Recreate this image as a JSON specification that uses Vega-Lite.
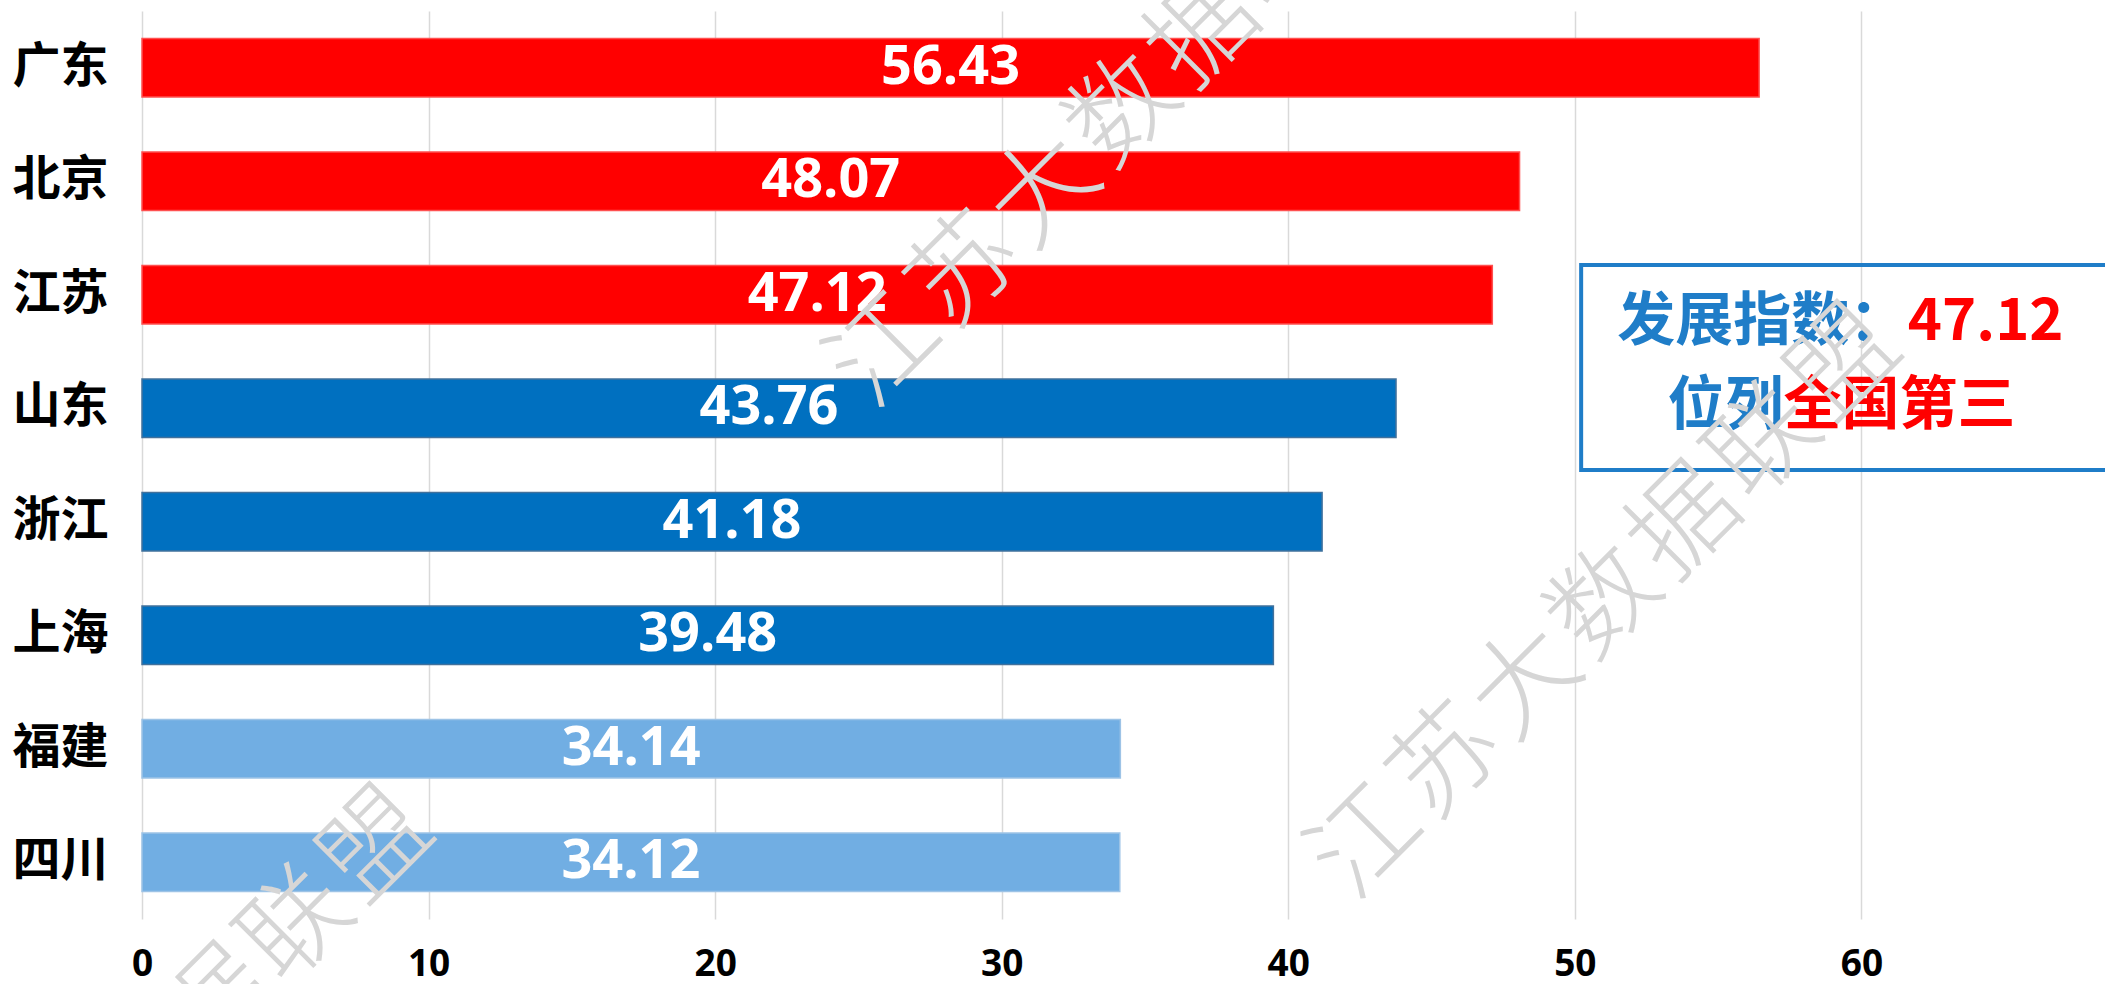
{
  "$schema": "https://vega.github.io/schema/vega-lite/v6.json",
  "width": 1963,
  "height": 908,
  "autosize": {"type": "none"},
  "padding": {"left": 142, "top": 11, "right": 0, "bottom": 65},
  "background": "white",
  "config": {"view": {"stroke": null}},
  "datasets": {
    "provinces": [
      {"province": "广东", "value": 56.43, "tier": "前三"},
      {"province": "北京", "value": 48.07, "tier": "前三"},
      {"province": "江苏", "value": 47.12, "tier": "前三"},
      {"province": "山东", "value": 43.76, "tier": "第二梯队"},
      {"province": "浙江", "value": 41.18, "tier": "第二梯队"},
      {"province": "上海", "value": 39.48, "tier": "第二梯队"},
      {"province": "福建", "value": 34.14, "tier": "第三梯队"},
      {"province": "四川", "value": 34.12, "tier": "第三梯队"}
    ]
  },
  "layer": [
    {
      "data": {"name": "provinces"},
      "layer": [
        {
          "mark": {"type": "bar", "strokeWidth": 1.5},
          "encoding": {
            "y": {
              "field": "province", "type": "nominal", "sort": null,
              "scale": {"paddingInner": 0.483, "paddingOuter": 0.2415},
              "axis": {"title": null, "domain": false, "ticks": false, "labelFont": "Noto Sans CJK SC", "labelFontWeight": "bold", "labelFontSize": 48, "labelColor": "#000000", "labelPadding": 34}
            },
            "x": {
              "field": "value", "type": "quantitative",
              "scale": {"domain": [0, 68.5], "nice": false, "zero": true},
              "axis": {"title": null, "values": [0, 10, 20, 30, 40, 50, 60], "domain": false, "ticks": false, "grid": true, "gridColor": "#D9D9D9", "gridWidth": 1.5, "labelFlush": false, "labelFont": "Open Sans", "labelFontWeight": "bold", "labelFontSize": 37, "labelColor": "#000000", "labelPadding": 27}
            },
            "color": {"field": "tier", "type": "nominal", "scale": {"domain": ["前三", "第二梯队", "第三梯队"], "range": ["#FF0000", "#0070C0", "#71AEE3"]}, "legend": null},
            "stroke": {"field": "tier", "type": "nominal", "scale": {"domain": ["前三", "第二梯队", "第三梯队"], "range": ["#FF5050", "#41719C", "#9DC3E6"]}, "legend": null}
          }
        },
        {
          "transform": [{"calculate": "datum.value / 2", "as": "mid"}],
          "mark": {"type": "text", "color": "#FFFFFF", "font": "Open Sans", "fontWeight": "bold", "fontSize": 54, "align": "center", "baseline": "middle"},
          "encoding": {
            "y": {"field": "province", "type": "nominal", "sort": null},
            "x": {"field": "mid", "type": "quantitative"},
            "text": {"field": "value", "type": "quantitative", "format": ".2f"}
          }
        }
      ]
    },
    {
      "data": {"values": [{}]},
      "layer": [
        {
          "mark": {"type": "rect", "filled": false, "stroke": "#1F7DC8", "strokeWidth": 4},
          "encoding": {
            "x": {"datum": 50.22, "type": "quantitative"},
            "x2": {"datum": 70},
            "y": {"datum": 2.238, "type": "quantitative", "scale": {"domain": [0, 8], "reverse": true}, "axis": null},
            "y2": {"datum": 4.044}
          }
        },
        {
          "mark": {"type": "text", "text": "发展指数：", "color": "#1F7DC8", "font": "Noto Sans CJK SC", "fontWeight": "bold", "fontSize": 58, "align": "right", "baseline": "middle"},
          "encoding": {
            "x": {"datum": 61.6, "type": "quantitative"},
            "y": {"datum": 2.749, "type": "quantitative", "scale": {"domain": [0, 8], "reverse": true}, "axis": null}
          }
        },
        {
          "mark": {"type": "text", "text": "47.12", "color": "#FF0000", "font": "Noto Sans CJK SC", "fontWeight": "bold", "fontSize": 58, "align": "left", "baseline": "middle"},
          "encoding": {
            "x": {"datum": 61.62, "type": "quantitative"},
            "y": {"datum": 2.749, "type": "quantitative", "scale": {"domain": [0, 8], "reverse": true}, "axis": null}
          }
        },
        {
          "mark": {"type": "text", "text": "位列", "color": "#1F7DC8", "font": "Noto Sans CJK SC", "fontWeight": "bold", "fontSize": 58, "align": "right", "baseline": "middle"},
          "encoding": {
            "x": {"datum": 57.28, "type": "quantitative"},
            "y": {"datum": 3.493, "type": "quantitative", "scale": {"domain": [0, 8], "reverse": true}, "axis": null}
          }
        },
        {
          "mark": {"type": "text", "text": "全国第三", "color": "#FF0000", "font": "Noto Sans CJK SC", "fontWeight": "bold", "fontSize": 58, "align": "left", "baseline": "middle"},
          "encoding": {
            "x": {"datum": 57.28, "type": "quantitative"},
            "y": {"datum": 3.493, "type": "quantitative", "scale": {"domain": [0, 8], "reverse": true}, "axis": null}
          }
        },
        {
          "mark": {"type": "text", "text": "江\u200a苏\u200a大\u200a数\u200a据\u200a联\u200a盟", "angle": 315, "color": "#D6D6D6", "font": "Noto Sans CJK SC", "fontWeight": 300, "fontSize": 106, "align": "center", "baseline": "middle"},
          "encoding": {
            "x": {"datum": 34.3, "type": "quantitative"},
            "y": {"datum": 0.89, "type": "quantitative", "scale": {"domain": [0, 8], "reverse": true}, "axis": null}
          }
        },
        {
          "mark": {"type": "text", "text": "江\u200a苏\u200a大\u200a数\u200a据\u200a联\u200a盟", "angle": 315, "color": "#D6D6D6", "font": "Noto Sans CJK SC", "fontWeight": 300, "fontSize": 106, "align": "center", "baseline": "middle"},
          "encoding": {
            "x": {"datum": 51.1, "type": "quantitative"},
            "y": {"datum": 5.22, "type": "quantitative", "scale": {"domain": [0, 8], "reverse": true}, "axis": null}
          }
        },
        {
          "mark": {"type": "text", "text": "江\u200a苏\u200a大\u200a数\u200a据\u200a联\u200a盟", "angle": 315, "color": "#D6D6D6", "font": "Noto Sans CJK SC", "fontWeight": 300, "fontSize": 106, "align": "center", "baseline": "middle"},
          "encoding": {
            "x": {"datum": -0.11, "type": "quantitative"},
            "y": {"datum": 9.47, "type": "quantitative", "scale": {"domain": [0, 8], "reverse": true}, "axis": null}
          }
        }
      ]
    }
  ],
  "resolve": {"scale": {"y": "independent"}}
}
